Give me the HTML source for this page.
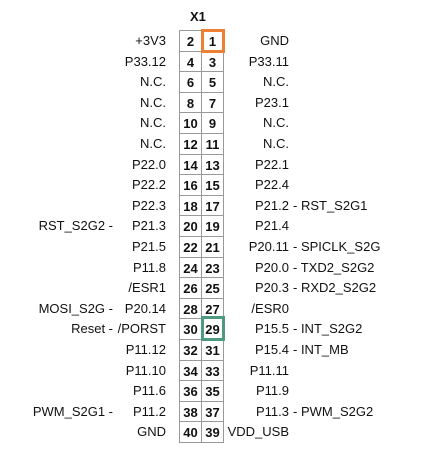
<!DOCTYPE html>
<html><head><meta charset="utf-8"><style>
body{margin:0;width:434px;height:463px;background:#fff;position:relative;font-family:"Liberation Sans",sans-serif;font-size:13px;color:#111;overflow:hidden}
.r{position:absolute;height:20.6px;line-height:21px;white-space:nowrap}
.ln{right:268px;text-align:right}
.pre{right:321px;text-align:right}
.rn{right:145px;text-align:right}
.suf{left:293px}
.c{position:absolute;width:23px;height:21.6px;line-height:21px;text-align:center;font-weight:bold;box-sizing:border-box;border:1px solid #999}
</style></head><body>
<div style="position:absolute;left:190px;top:9px;font-weight:bold;font-size:13px">X1</div>
<div id="g"></div>
<div style="position:absolute;left:201px;top:29px;width:24px;height:24px;box-sizing:border-box;border:3px solid #ee8033"></div>
<div style="position:absolute;left:201px;top:316px;width:24px;height:25px;box-sizing:border-box;border:3px solid #4e9a7e"></div>
<script>
var rows=[["","+3V3","GND",""],["","P33.12","P33.11",""],["","N.C.","N.C.",""],["","N.C.","P23.1",""],["","N.C.","N.C.",""],["","N.C.","N.C.",""],["","P22.0","P22.1",""],["","P22.2","P22.4",""],["","P22.3","P21.2","- RST_S2G1"],["RST_S2G2 -","P21.3","P21.4",""],["","P21.5","P20.11","- SPICLK_S2G"],["","P11.8","P20.0","- TXD2_S2G2"],["","/ESR1","P20.3","- RXD2_S2G2"],["MOSI_S2G -","P20.14","/ESR0",""],["Reset -","/PORST","P15.5","- INT_S2G2"],["","P11.12","P15.4","- INT_MB"],["","P11.10","P11.11",""],["","P11.6","P11.9",""],["PWM_S2G1 -","P11.2","P11.3","- PWM_S2G2"],["","GND","VDD_USB",""]];
var h="";
rows.forEach(function(r,i){var t=(30+20.6*i).toFixed(1);
if(r[0])h+='<div class="r pre" style="top:'+t+'px">'+r[0]+'</div>';
h+='<div class="r ln" style="top:'+t+'px">'+r[1]+'</div>';
h+='<div class="r rn" style="top:'+t+'px">'+r[2]+'</div>';
if(r[3])h+='<div class="r suf" style="top:'+t+'px">'+r[3]+'</div>';
h+='<div class="c" style="left:179px;top:'+t+'px">'+(2*i+2)+'</div>';
h+='<div class="c" style="left:201px;top:'+t+'px">'+(2*i+1)+'</div>';
});
document.getElementById("g").innerHTML=h;
</script>
</body></html>
